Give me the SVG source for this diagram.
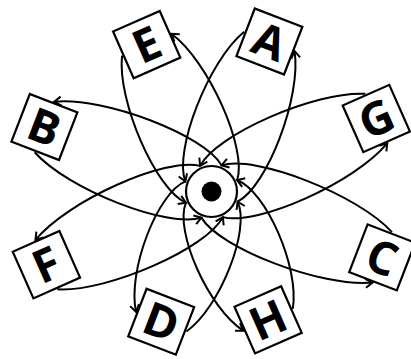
<svg xmlns="http://www.w3.org/2000/svg" width="411" height="359" viewBox="0 0 411 359">
<defs>
<style>
.e{fill:none;stroke:#000;stroke-width:2;marker-end:url(#arr)}
.box{fill:#fff;stroke:#000;stroke-width:2.2}
.lbl{font-family:"Open Sans","DejaVu Sans",sans-serif;font-weight:700;font-size:46px;text-anchor:middle;fill:#000}
.ring{fill:#fff;stroke:#000;stroke-width:2.2}
</style>
<marker id="arr" viewBox="-10 -7 12 14" refX="0" refY="0" markerWidth="12" markerHeight="14" markerUnits="userSpaceOnUse" orient="auto">
<path d="M-7,-4.5 L0,0 L-7,4.5" fill="none" stroke="#000" stroke-width="2"/>
</marker>
</defs>
<rect width="411" height="359" fill="#fff"/>
<g id="connectors">
<g transform="translate(211.5,191.5) rotate(-113.8)">
<path class="e" d="M-140.2,27 C-105.2,50 -21,50 0,28"/>
<path class="e" d="M0,28 C24.1,50 120.4,50 160.5,27"/>
<path class="e" d="M160.5,-27 C120.4,-50 24.1,-50 0,-28"/>
<path class="e" d="M0,-28 C-21,-50 -105.2,-50 -140.2,-27"/>
</g>
<g transform="translate(211.5,191.5) rotate(-68.9)">
<path class="e" d="M-139.6,27 C-104.7,50 -20.9,50 0,28"/>
<path class="e" d="M0,28 C24.1,50 120.6,50 160.8,27"/>
<path class="e" d="M160.8,-27 C120.6,-50 24.1,-50 0,-28"/>
<path class="e" d="M0,-28 C-20.9,-50 -104.7,-50 -139.6,-27"/>
</g>
<g transform="translate(211.5,191.5) rotate(-158.9)">
<path class="e" d="M-183,27 C-137.3,50 -27.5,50 0,28"/>
<path class="e" d="M0,28 C26.9,50 134.3,50 179.1,27"/>
<path class="e" d="M179.1,-27 C134.3,-50 26.9,-50 0,-28"/>
<path class="e" d="M0,-28 C-27.5,-50 -137.3,-50 -183,-27"/>
</g>
<g transform="translate(211.5,191.5) rotate(-23.9)">
<path class="e" d="M-180.6,27 C-135.5,50 -27.1,50 0,28"/>
<path class="e" d="M0,28 C27,50 135.2,50 180.3,27"/>
<path class="e" d="M180.3,-27 C135.2,-50 27,-50 0,-28"/>
<path class="e" d="M0,-28 C-27.1,-50 -135.5,-50 -180.6,-27"/>
</g>
</g>
<g id="node-center" transform="translate(211.5,191.5)">
<circle class="ring" r="25.5"/>
<circle r="10" fill="#000"/>
</g>
<g id="node-E" transform="translate(146.7,44.6) rotate(-23.8)">
<rect class="box" x="-25.5" y="-25.5" width="51" height="51"/>
<text class="lbl" y="16.4">E</text>
</g>
<g id="node-A" transform="translate(269.4,41.5) rotate(21.1)">
<rect class="box" x="-25.5" y="-25.5" width="51" height="51"/>
<text class="lbl" y="16.4">A</text>
</g>
<g id="node-B" transform="translate(44.4,127) rotate(21.1)">
<rect class="box" x="-25.5" y="-25.5" width="51" height="51"/>
<text class="lbl" y="16.4">B</text>
</g>
<g id="node-G" transform="translate(376.3,118.5) rotate(-23.9)">
<rect class="box" x="-25.5" y="-25.5" width="51" height="51"/>
<text class="lbl" y="16.4">G</text>
</g>
<g id="node-F" transform="translate(46.4,264.7) rotate(-23.9)">
<rect class="box" x="-25.5" y="-25.5" width="51" height="51"/>
<text class="lbl" y="16.4">F</text>
</g>
<g id="node-C" transform="translate(382.2,257.4) rotate(21.1)">
<rect class="box" x="-25.5" y="-25.5" width="51" height="51"/>
<text class="lbl" y="16.4">C</text>
</g>
<g id="node-D" transform="translate(161.2,321.7) rotate(21.1)">
<rect class="box" x="-25.5" y="-25.5" width="51" height="51"/>
<text class="lbl" y="16.4">D</text>
</g>
<g id="node-H" transform="translate(268.1,319.8) rotate(-23.8)">
<rect class="box" x="-25.5" y="-25.5" width="51" height="51"/>
<text class="lbl" y="16.4">H</text>
</g>
</svg>
